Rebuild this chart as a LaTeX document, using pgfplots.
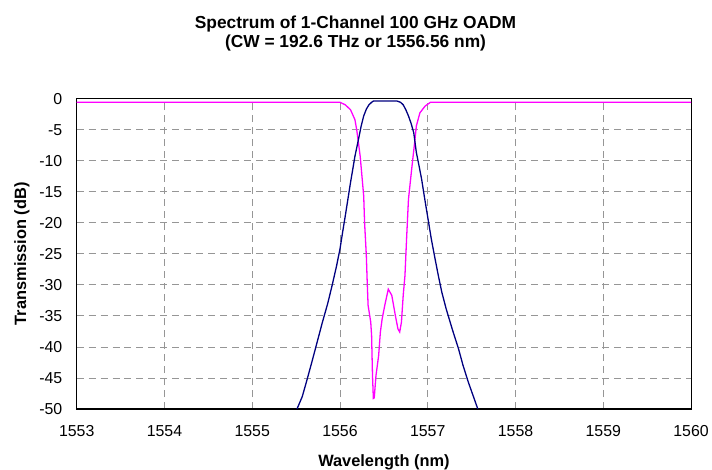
\documentclass[border=0pt]{standalone}
\usepackage{pgfplots}
\pgfplotsset{compat=1.18}
\usepackage{fontspec}
\setmainfont{Liberation Sans}
\definecolor{bluecurve}{RGB}{0,0,128}
\definecolor{pinkcurve}{RGB}{255,0,255}
\definecolor{gridgray}{RGB}{150,150,150}
\begin{document}
\begin{tikzpicture}
\begin{axis}[
  at={(0,0)}, anchor=south west,
  scale only axis,
  width=617bp, height=311.7bp,
  xmin=1553, xmax=1560, ymin=-50, ymax=0,
  xtick={1553,1554,...,1560},
  ytick={-50,-45,...,0},
  major tick length=0pt,
  grid=major,
  major grid style={gridgray, line width=0.8bp, dash pattern=on 7bp off 5bp},
  axis line style={black, line width=1.2bp},
  /pgf/number format/assume math mode=true,
  /pgf/number format/1000 sep={},
  tick label style={font=\fontsize{16}{18}\selectfont},
  xticklabel style={yshift=-13bp},
  yticklabel style={xshift=-11bp},
  clip=true,
]
\addplot[pinkcurve, line width=1.3bp] coordinates {
(1553,-0.6) (1556.00,-0.6) (1556.06,-1.0) (1556.12,-1.8) (1556.17,-3.4)
(1556.19,-5.0) (1556.21,-7.1) (1556.23,-9.3) (1556.25,-12.5) (1556.27,-15.7)
(1556.28,-20) (1556.30,-25.3) (1556.31,-29.6) (1556.32,-33.3) (1556.35,-36.0)
(1556.36,-38.2) (1556.37,-44.6) (1556.38,-48.3) (1556.39,-48.2) (1556.41,-44.6)
(1556.44,-41.4) (1556.46,-37.6) (1556.48,-35.5) (1556.51,-33.3) (1556.55,-30.7)
(1556.59,-31.7) (1556.63,-34.9) (1556.66,-37.1) (1556.68,-37.6) (1556.70,-36.0)
(1556.72,-31.7) (1556.74,-28.5) (1556.76,-22.1) (1556.78,-16.2) (1556.82,-10.9)
(1556.85,-7.1) (1556.87,-4.4) (1556.91,-2.3) (1556.97,-1.2) (1557.03,-0.6)
(1560,-0.6)
};
\addplot[bluecurve, line width=1.3bp] coordinates {
(1555.51,-50) (1555.57,-48) (1555.62,-45.5) (1555.68,-42.4) (1555.74,-39.2)
(1555.80,-36.0) (1555.86,-33) (1555.91,-30.1) (1555.96,-27) (1556.00,-24.2)
(1556.03,-21.5) (1556.06,-18.9) (1556.09,-16.2) (1556.12,-13.5) (1556.15,-11)
(1556.17,-9.3) (1556.21,-6.6) (1556.24,-4.5) (1556.27,-2.8) (1556.30,-1.7)
(1556.33,-1.0) (1556.36,-0.6) (1556.38,-0.4) (1556.65,-0.4) (1556.69,-0.6)
(1556.72,-1.0) (1556.75,-1.8) (1556.78,-2.8) (1556.81,-4.0) (1556.84,-5.5)
(1556.87,-8.7) (1556.90,-10.8) (1556.93,-13) (1556.96,-15.7) (1556.99,-18.3)
(1557.04,-22.6) (1557.08,-25.6) (1557.12,-28.5) (1557.16,-31.2) (1557.21,-33.9)
(1557.28,-37.2) (1557.35,-40.3) (1557.40,-42.9) (1557.46,-45.6) (1557.52,-48)
(1557.57,-50)
};
\end{axis}
\path[use as bounding box] (-77bp,-60.3bp) rectangle (635bp,410.7bp);
\node[font=\bfseries\fontsize{17.5}{20}\selectfont, align=center, inner sep=0pt] at (280bp,377bp)
  {Spectrum of 1-Channel 100 GHz OADM\\(CW = 192.6 THz or 1556.56 nm)};
\node[font=\bfseries\fontsize{16.5}{18.5}\selectfont, inner sep=0pt] at (308.5bp,-53.5bp) {Wavelength (nm)};
\node[font=\bfseries\fontsize{16.5}{18.5}\selectfont, inner sep=0pt, rotate=90] at (-55bp,155.85bp) {Transmission (dB)};
\end{tikzpicture}
\end{document}
